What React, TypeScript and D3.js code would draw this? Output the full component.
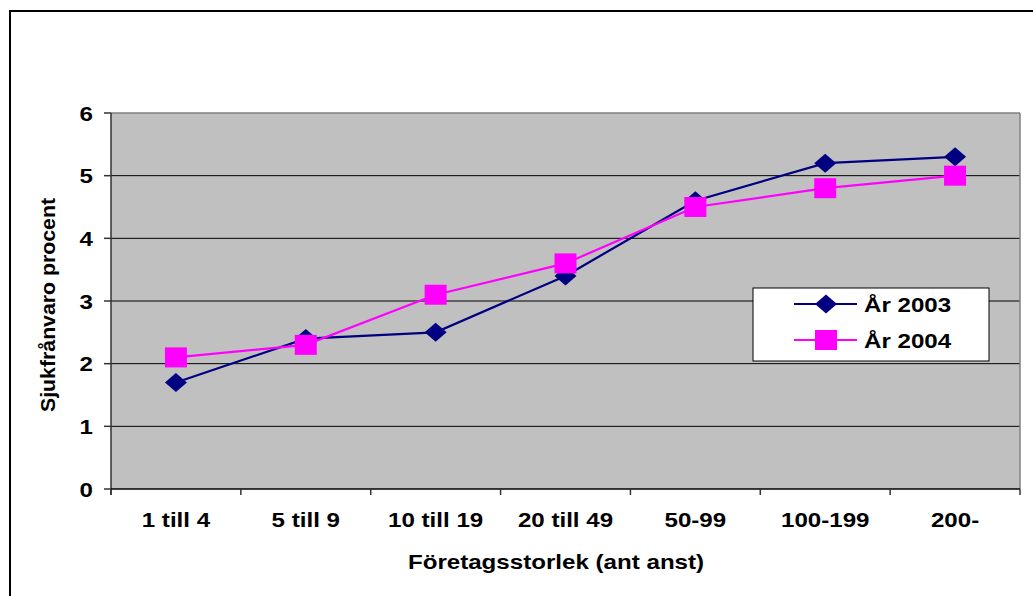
import React from "react";
import * as d3 from "d3";

const categories = ["1 till 4", "5 till 9", "10 till 19", "20 till 49", "50-99", "100-199", "200-"];
const series2003 = [1.7, 2.4, 2.5, 3.4, 4.6, 5.2, 5.3];
const series2004 = [2.1, 2.3, 3.1, 3.6, 4.5, 4.8, 5.0];
const yTicks = [0, 1, 2, 3, 4, 5, 6];
const seriesNames = ["År 2003", "År 2004"];
const yTitle = "Sjukfrånvaro procent";
const xTitle = "Företagsstorlek (ant anst)";

const W = 1033;
const H = 596;
const plot = { left: 111, right: 1020, top: 113, bottom: 489 };
const FONT = "Arial, 'Liberation Sans', sans-serif";
const SX = 1.16;
const FS = 20.8;
const NAVY = "#000080";
const MAGENTA = "#FF00FF";

function Diamond({ x, y }: { x: number; y: number }) {
  return <path d={`M${x - 11},${y} L${x},${y - 9.5} L${x + 11},${y} L${x},${y + 9.5} Z`} fill={NAVY} />;
}
function Square({ x, y }: { x: number; y: number }) {
  return <rect x={x - 11} y={y - 10} width={22} height={20} fill={MAGENTA} />;
}

function Txt({ x, y, anchor, children, size = FS }: any) {
  return (
    <text
      transform={`translate(${x},${y}) scale(${SX},1)`}
      textAnchor={anchor}
      fontFamily={FONT}
      fontWeight="bold"
      fontSize={size}
      fill="#000"
    >
      {children}
    </text>
  );
}

export default function App() {
  const x = d3.scaleBand<string>().domain(categories).range([plot.left, plot.right]).padding(0);
  const y = d3.scaleLinear().domain([0, 6]).range([plot.bottom, plot.top]);
  const cx = (c: string) => (x(c) as number) + x.bandwidth() / 2;
  const line = d3
    .line<number>()
    .x((_, i) => cx(categories[i]))
    .y((d) => y(d));
  const boundaries = categories.map((c) => x(c) as number).concat([plot.right]);

  const lg = { x: 753, y: 288, w: 236, h: 73 };

  return (
    <svg width={W} height={H} style={{ position: "absolute", left: 0, top: 0, background: "#fff" }}>
      <rect x={0} y={0} width={W} height={H} fill="#fff" />
      {/* outer border */}
      <rect x={10} y={11} width={W + 20} height={H + 20} fill="none" stroke="#000" strokeWidth={2} />
      {/* plot area */}
      <rect x={plot.left} y={plot.top} width={plot.right - plot.left} height={plot.bottom - plot.top} fill="#C0C0C0" />
      {yTicks.slice(1, -1).map((t) => (
        <line key={t} x1={plot.left} x2={plot.right} y1={y(t)} y2={y(t)} stroke="#000" strokeWidth={1} />
      ))}
      <line x1={plot.left} x2={plot.right} y1={plot.top} y2={plot.top} stroke="#808080" strokeWidth={1.5} />
      <line x1={plot.right} x2={plot.right} y1={plot.top} y2={plot.bottom} stroke="#808080" strokeWidth={1.5} />
      {/* axes */}
      <line x1={plot.left} x2={plot.left} y1={plot.top} y2={plot.bottom + 6} stroke="#333" strokeWidth={1.5} />
      <line x1={plot.left} x2={plot.right} y1={plot.bottom} y2={plot.bottom} stroke="#000" strokeWidth={1.5} />
      {yTicks.map((t) => (
        <g key={t}>
          <line x1={plot.left - 7} x2={plot.left} y1={y(t)} y2={y(t)} stroke="#333" strokeWidth={1.5} />
          <Txt x={93} y={y(t) + 7.5} anchor="end">{t}</Txt>
        </g>
      ))}
      {boundaries.map((b, i) => (
        <line key={i} x1={b} x2={b} y1={plot.bottom} y2={plot.bottom + 6} stroke="#333" strokeWidth={1.5} />
      ))}
      {categories.map((c) => (
        <Txt key={c} x={cx(c)} y={527} anchor="middle">{c}</Txt>
      ))}
      {/* titles */}
      <Txt x={556} y={569} anchor="middle">{xTitle}</Txt>
      <text
        transform={`translate(55,305) rotate(-90)`}
        textAnchor="middle"
        fontFamily={FONT}
        fontWeight="bold"
        fontSize={20.5}
        textLength={214}
        lengthAdjust="spacingAndGlyphs"
      >
        {yTitle}
      </text>
      {/* series */}
      <path d={line(series2003) || ""} fill="none" stroke={NAVY} strokeWidth={2.2} />
      {series2003.map((v, i) => (
        <Diamond key={i} x={cx(categories[i])} y={y(v)} />
      ))}
      <path d={line(series2004) || ""} fill="none" stroke={MAGENTA} strokeWidth={2.2} />
      {series2004.map((v, i) => (
        <Square key={i} x={cx(categories[i])} y={y(v)} />
      ))}
      {/* legend */}
      <rect x={lg.x} y={lg.y} width={lg.w} height={lg.h} fill="#fff" stroke="#000" strokeWidth={1} />
      <line x1={794} x2={857} y1={304} y2={304} stroke={NAVY} strokeWidth={2.2} />
      <Diamond x={826} y={304} />
      <Txt x={864} y={311.5} anchor="start">{seriesNames[0]}</Txt>
      <line x1={794} x2={857} y1={340} y2={340} stroke={MAGENTA} strokeWidth={2.2} />
      <Square x={826} y={340} />
      <Txt x={864} y={347.5} anchor="start">{seriesNames[1]}</Txt>
    </svg>
  );
}
